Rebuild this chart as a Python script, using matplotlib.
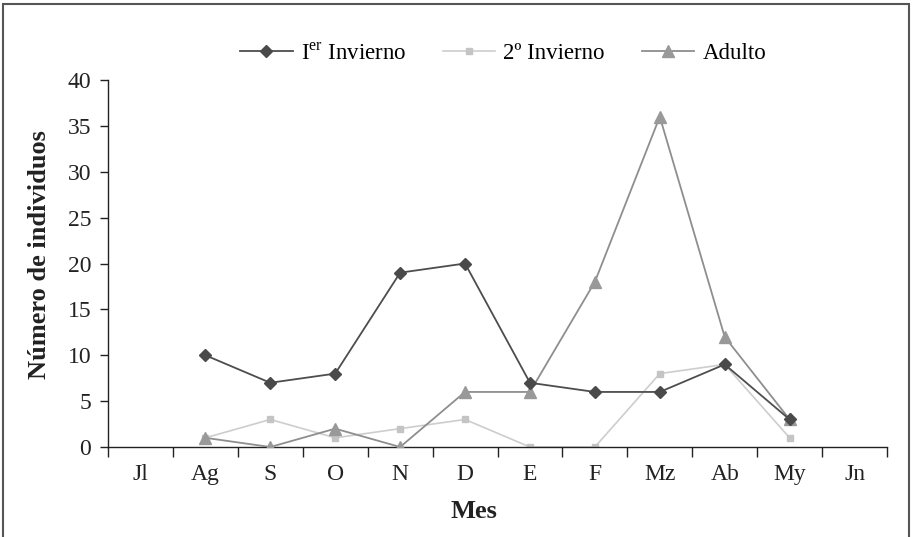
import matplotlib
matplotlib.use("Agg")
import matplotlib.pyplot as plt
from matplotlib.patches import Rectangle
import numpy as np

plt.rcParams['font.family'] = ['Liberation Serif', 'DejaVu Serif']
plt.rcParams['mathtext.fontset'] = 'custom'
plt.rcParams['mathtext.rm'] = 'Liberation Serif'

months = ["Jl", "Ag", "S", "O", "N", "D", "E", "F", "Mz", "Ab", "My", "Jn"]
primer_invierno = [None, 10, 7, 8, 19, 20, 7, 6, 6, 9, 3, None]
segundo_invierno = [None, 1, 3, 1, 2, 3, 0, 0, 8, 9, 1, None]
adulto = [None, 1, 0, 2, 0, 6, 6, 18, 36, 12, 3, None]

def to_arr(v):
    return np.array([np.nan if x is None else x for x in v], dtype=float)

fig = plt.figure(figsize=(9.13, 5.37), dpi=100)
ax = fig.add_axes([108/913, 1-447/537, (887-108)/913, (447-80)/537])

x = np.arange(len(months))
ax.plot(x, to_arr(segundo_invierno), color='#cdcdcd', lw=1.2, marker='s', ms=4,
        mfc='#c4c4c4', mec='#c4c4c4', label='2º Invierno', zorder=2)
ax.plot(x, to_arr(adulto), color='#8e8e8e', lw=1.3, marker='^', ms=8,
        mfc='#999999', mec='#999999', label='Adulto', zorder=3)
ax.plot(x, to_arr(primer_invierno), color='#4d4d4d', lw=1.3, marker='D', ms=6,
        mfc='#4a4a4a', mec='#4a4a4a', label='I$^{\\mathrm{er}}$ Invierno', zorder=4)

ax.set_xlim(-0.5, len(months) - 0.5)
ax.set_ylim(0, 40)
ax.set_yticks(range(0, 41, 5))
ax.set_xticks(x)
ax.set_xticklabels(months)
ax.set_xticks(np.arange(-0.5, len(months), 1), minor=True)
ax.tick_params(axis='x', which='major', length=0, pad=12, labelsize=17, colors='#222222')
ax.tick_params(axis='x', which='minor', length=7, width=1, direction='out', color='#222222')
ax.tick_params(axis='y', length=6, width=1, direction='out', labelsize=17, colors='#222222', pad=6)
for s in ['top', 'right']:
    ax.spines[s].set_visible(False)
for s in ['left', 'bottom']:
    ax.spines[s].set_color('#222222')
    ax.spines[s].set_linewidth(1)

ax.set_ylabel('Número de individuos', fontsize=19, fontweight='bold', labelpad=12, color='#222222')
ax.yaxis.set_label_coords(-0.073, 0.523)
ax.set_xlabel('Mes', fontsize=19, fontweight='bold', labelpad=8, color='#222222')
ax.xaxis.set_label_coords(0.47, -0.145)

handles, labels = ax.get_legend_handles_labels()
order = [2, 0, 1]
fig.legend([handles[i] for i in order], [labels[i] for i in order],
           loc='center', bbox_to_anchor=(0.551, 0.9), ncol=3, frameon=False,
           fontsize=16.5, handlelength=2.3, columnspacing=1.6, handletextpad=0.35)

fig.patches.append(Rectangle((3/913, -0.05), (909-3)/913, (537-4)/537 + 0.05,
                             transform=fig.transFigure, fill=False,
                             edgecolor='#555555', lw=1.5))

fig.savefig('out.png', dpi=100)
